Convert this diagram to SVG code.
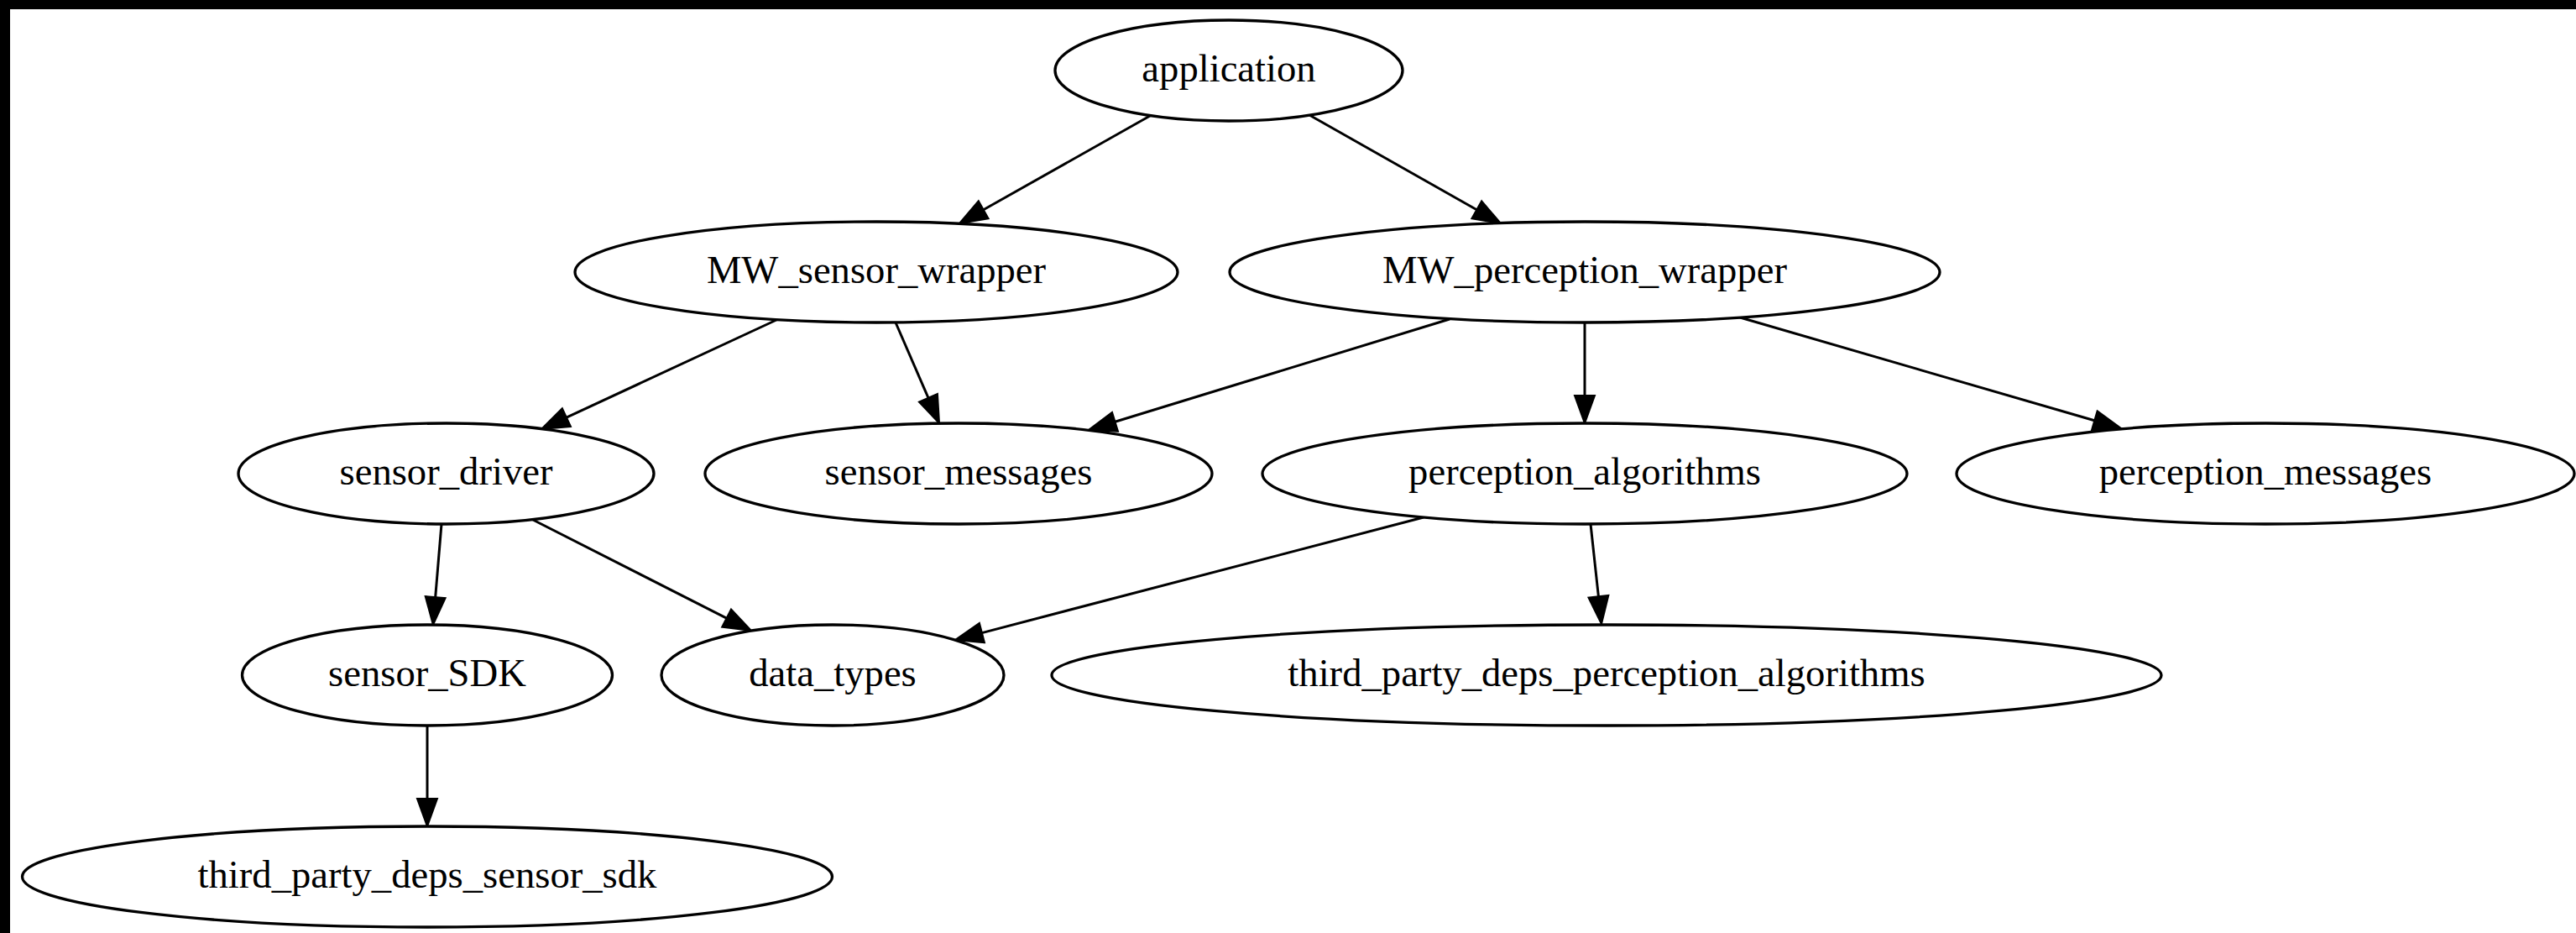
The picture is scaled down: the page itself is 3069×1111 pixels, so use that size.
<svg xmlns="http://www.w3.org/2000/svg" width="3069" height="1111" viewBox="0 0 3069 1111">
  <style>
    .node ellipse { fill: #ffffff; stroke: #000000; stroke-width: 3.3; }
    .node text { font-family: "Liberation Serif", "Times New Roman", serif; font-size: 46.67px; text-anchor: middle; fill: #000000; }
    .edge { fill: none; stroke: #000000; stroke-width: 3; marker-end: url(#arrow); }
  </style>
  <defs>
    <marker id="arrow" markerUnits="userSpaceOnUse" markerWidth="40" markerHeight="30" refX="0" refY="12" orient="auto" overflow="visible">
      <path d="M0,0 L33,12 L0,24 z" fill="#000000" stroke="#000000" stroke-width="2"/>
    </marker>
  </defs>

  <!-- page background and frame -->
  <rect x="0" y="0" width="3069" height="1111" fill="#ffffff"/>
  <rect x="0" y="0" width="3069" height="11" fill="#000000"/>
  <rect x="0" y="0" width="12" height="1111" fill="#000000"/>

  <!-- connectors -->
  <g id="edges">
    <line class="edge" x1="1370" y1="138" x2="1171.7" y2="249.8"/>
    <line class="edge" x1="1560" y1="137" x2="1759.3" y2="249.8"/>
    <line class="edge" x1="925" y1="381" x2="674.9" y2="497.1"/>
    <line class="edge" x1="1067" y1="384" x2="1105.9" y2="473.7"/>
    <line class="edge" x1="1727" y1="380" x2="1328.5" y2="502.3"/>
    <line class="edge" x1="1888" y1="384" x2="1888" y2="471"/>
    <line class="edge" x1="2073" y1="378" x2="2495.3" y2="500.8"/>
    <line class="edge" x1="526" y1="624" x2="518.7" y2="711.1"/>
    <line class="edge" x1="635" y1="619" x2="865.6" y2="736.1"/>
    <line class="edge" x1="1696" y1="616" x2="1169.9" y2="753.6"/>
    <line class="edge" x1="1895" y1="624" x2="1904.4" y2="710.2"/>
    <line class="edge" x1="509" y1="864" x2="509" y2="951"/>
  </g>

  <!-- nodes -->
  <g id="application" class="node">
    <ellipse cx="1464" cy="84" rx="207" ry="60"/>
    <text x="1464" y="97">application</text>
  </g>
  <g id="MW_sensor_wrapper" class="node">
    <ellipse cx="1044" cy="324" rx="359" ry="60"/>
    <text x="1044" y="337">MW_sensor_wrapper</text>
  </g>
  <g id="MW_perception_wrapper" class="node">
    <ellipse cx="1888" cy="324" rx="423" ry="60"/>
    <text x="1888" y="337">MW_perception_wrapper</text>
  </g>
  <g id="sensor_driver" class="node">
    <ellipse cx="531.5" cy="564" rx="247.5" ry="60"/>
    <text x="531.5" y="577">sensor_driver</text>
  </g>
  <g id="sensor_messages" class="node">
    <ellipse cx="1142" cy="564" rx="302" ry="60"/>
    <text x="1142" y="577">sensor_messages</text>
  </g>
  <g id="perception_algorithms" class="node">
    <ellipse cx="1888" cy="564" rx="384" ry="60"/>
    <text x="1888" y="577">perception_algorithms</text>
  </g>
  <g id="perception_messages" class="node">
    <ellipse cx="2699" cy="564" rx="368" ry="60"/>
    <text x="2699" y="577">perception_messages</text>
  </g>
  <g id="sensor_SDK" class="node">
    <ellipse cx="509" cy="804" rx="220.5" ry="60"/>
    <text x="509" y="817">sensor_SDK</text>
  </g>
  <g id="data_types" class="node">
    <ellipse cx="992" cy="804" rx="204" ry="60"/>
    <text x="992" y="817">data_types</text>
  </g>
  <g id="third_party_deps_perception_algorithms" class="node">
    <ellipse cx="1914" cy="804" rx="661" ry="60"/>
    <text x="1914" y="817">third_party_deps_perception_algorithms</text>
  </g>
  <g id="third_party_deps_sensor_sdk" class="node">
    <ellipse cx="509" cy="1044" rx="482.5" ry="60"/>
    <text x="509" y="1057">third_party_deps_sensor_sdk</text>
  </g>
</svg>
